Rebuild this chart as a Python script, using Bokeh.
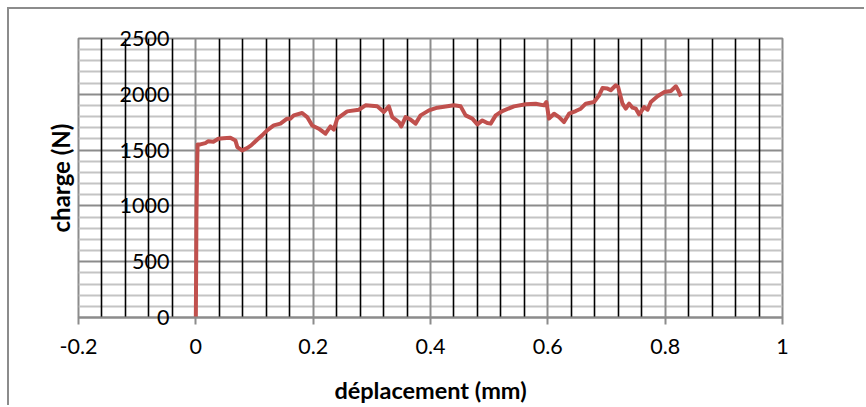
from bokeh.plotting import figure
from bokeh.models import Range1d, FixedTicker, Grid
from bokeh.embed import file_html
from bokeh.resources import INLINE

# load-displacement record
displacement_mm = [
    0.0, 0.0005, 0.001, 0.002, 0.003, 0.0077, 0.0162, 0.0213, 0.0299, 0.0384,
    0.0469, 0.0589, 0.0674, 0.0708, 0.0788, 0.0874, 0.0942, 0.1044, 0.1130, 0.1215,
    0.1328, 0.1442, 0.1556, 0.1613, 0.1669, 0.1812, 0.1898, 0.1983, 0.2096, 0.2210,
    0.2295, 0.2352, 0.2410, 0.2580, 0.2778, 0.2892, 0.3092, 0.3205, 0.3290, 0.3348,
    0.3461, 0.3502, 0.3575, 0.3660, 0.3746, 0.3831, 0.3973, 0.4116, 0.4287, 0.4399,
    0.4514, 0.4599, 0.4713, 0.4799, 0.4884, 0.4969, 0.5026, 0.5111, 0.5225, 0.5423,
    0.5623, 0.5793, 0.5935, 0.5976, 0.6020, 0.6106, 0.6191, 0.6276, 0.6362, 0.6476,
    0.6561, 0.6647, 0.6788, 0.6874, 0.6932, 0.7017, 0.7073, 0.7159, 0.7198, 0.7273,
    0.7329, 0.7386, 0.7444, 0.7500, 0.7556, 0.7642, 0.7700, 0.7756, 0.7870, 0.7983,
    0.8097, 0.8183, 0.8222, 0.8268,
]
charge_N = [
    0, 400, 900, 1300, 1550, 1551, 1563, 1580, 1575, 1602,
    1607, 1611, 1587, 1527, 1497, 1518, 1542, 1593, 1632, 1677,
    1721, 1737, 1782, 1782, 1811, 1832, 1796, 1721, 1692, 1647,
    1712, 1683, 1782, 1847, 1862, 1901, 1892, 1841, 1892, 1796,
    1751, 1712, 1796, 1773, 1737, 1811, 1856, 1880, 1892, 1901,
    1892, 1811, 1782, 1730, 1766, 1742, 1737, 1811, 1850, 1892,
    1910, 1916, 1901, 1931, 1782, 1826, 1796, 1751, 1826, 1850,
    1871, 1916, 1931, 1991, 2056, 2051, 2036, 2081, 2065, 1916,
    1871, 1916, 1880, 1871, 1820, 1886, 1862, 1931, 1982, 2020,
    2029, 2072, 2036, 1982,
]

x_ticks = [-0.2, 0, 0.2, 0.4, 0.6, 0.8, 1.0]
x_tick_labels = ["-0.2", "0", "0.2", "0.4", "0.6", "0.8", "1"]
x_minor = [-0.16, -0.12, -0.08, -0.04, 0.04, 0.08, 0.12, 0.16, 0.24, 0.28, 0.32, 0.36,
           0.44, 0.48, 0.52, 0.56, 0.64, 0.68, 0.72, 0.76, 0.84, 0.88, 0.92, 0.96]
y_ticks = [0, 500, 1000, 1500, 2000, 2500]
y_tick_labels = ["0", "500", "1000", "1500", "2000", "2500"]
y_minor = [v for v in range(100, 2500, 100) if v % 500]

FONT = "Lato"
GREY = "#8c8c8c"

# the chart area sits 7px in from the page corner with a thin grey border
p = figure(width=857, height=398, output_backend="svg", toolbar_location=None,
           x_range=Range1d(-0.2, 1.0), y_range=Range1d(0, 2500),
           min_border_left=69, min_border_right=84, min_border_top=29, min_border_bottom=90)
p.margin = (7, 0, 0, 7)
p.styles = {"border-left": f"2px solid {GREY}", "border-top": f"2px solid {GREY}"}
p.background_fill_color = "white"
p.border_fill_color = "white"
p.outline_line_color = GREY
p.outline_line_width = 2

# grids: horizontal first so the vertical lines sit on top
for g in list(p.grid):
    g.visible = False
hgrid = Grid(dimension=1, ticker=FixedTicker(ticks=y_ticks, minor_ticks=y_minor),
             grid_line_color=GREY, grid_line_width=2,
             minor_grid_line_color="#c4c4c4", minor_grid_line_width=2)
vgrid = Grid(dimension=0, ticker=FixedTicker(ticks=x_ticks, minor_ticks=x_minor),
             grid_line_color=GREY, grid_line_width=2,
             minor_grid_line_color="black", minor_grid_line_width=1.6)
p.add_layout(hgrid)
p.add_layout(vgrid)

# x axis
xa = p.xaxis[0]
xa.ticker = FixedTicker(ticks=x_ticks)
xa.major_label_overrides = dict(zip(x_ticks, x_tick_labels))
xa.axis_line_color = GREY
xa.axis_line_width = 2
xa.major_tick_line_color = GREY
xa.major_tick_line_width = 2
xa.major_tick_out = 7
xa.major_tick_in = 0
xa.minor_tick_line_color = None
xa.major_label_standoff = 14
xa.major_label_text_font = FONT
xa.major_label_text_font_size = "21.5px"
xa.major_label_text_color = "black"
xa.axis_label = "déplacement (mm)"
xa.axis_label_text_font = FONT
xa.axis_label_text_font_style = "bold"
xa.axis_label_text_font_size = "23.5px"
xa.axis_label_text_color = "black"
xa.axis_label_standoff = 19

# y axis: the value labels are pulled in to sit beside the x = 0 crossing
ya = p.yaxis[0]
ya.ticker = FixedTicker(ticks=y_ticks)
ya.major_label_overrides = dict(zip(y_ticks, y_tick_labels))
ya.axis_line_color = None
ya.major_tick_line_color = None
ya.minor_tick_line_color = None
ya.major_tick_out = 0
ya.major_tick_in = 0
ya.major_label_standoff = -91
ya.major_label_text_font = FONT
ya.major_label_text_font_size = "21.5px"
ya.major_label_text_color = "black"
ya.axis_label = "charge (N)"
ya.axis_label_text_font = FONT
ya.axis_label_text_font_style = "bold"
ya.axis_label_text_font_size = "24px"
ya.axis_label_text_color = "black"
ya.axis_label_standoff = 42

p.line(displacement_mm, charge_N, line_color="#C0504D", line_width=4,
       line_join="round")

open("out.html", "w").write(file_html(p, INLINE))
